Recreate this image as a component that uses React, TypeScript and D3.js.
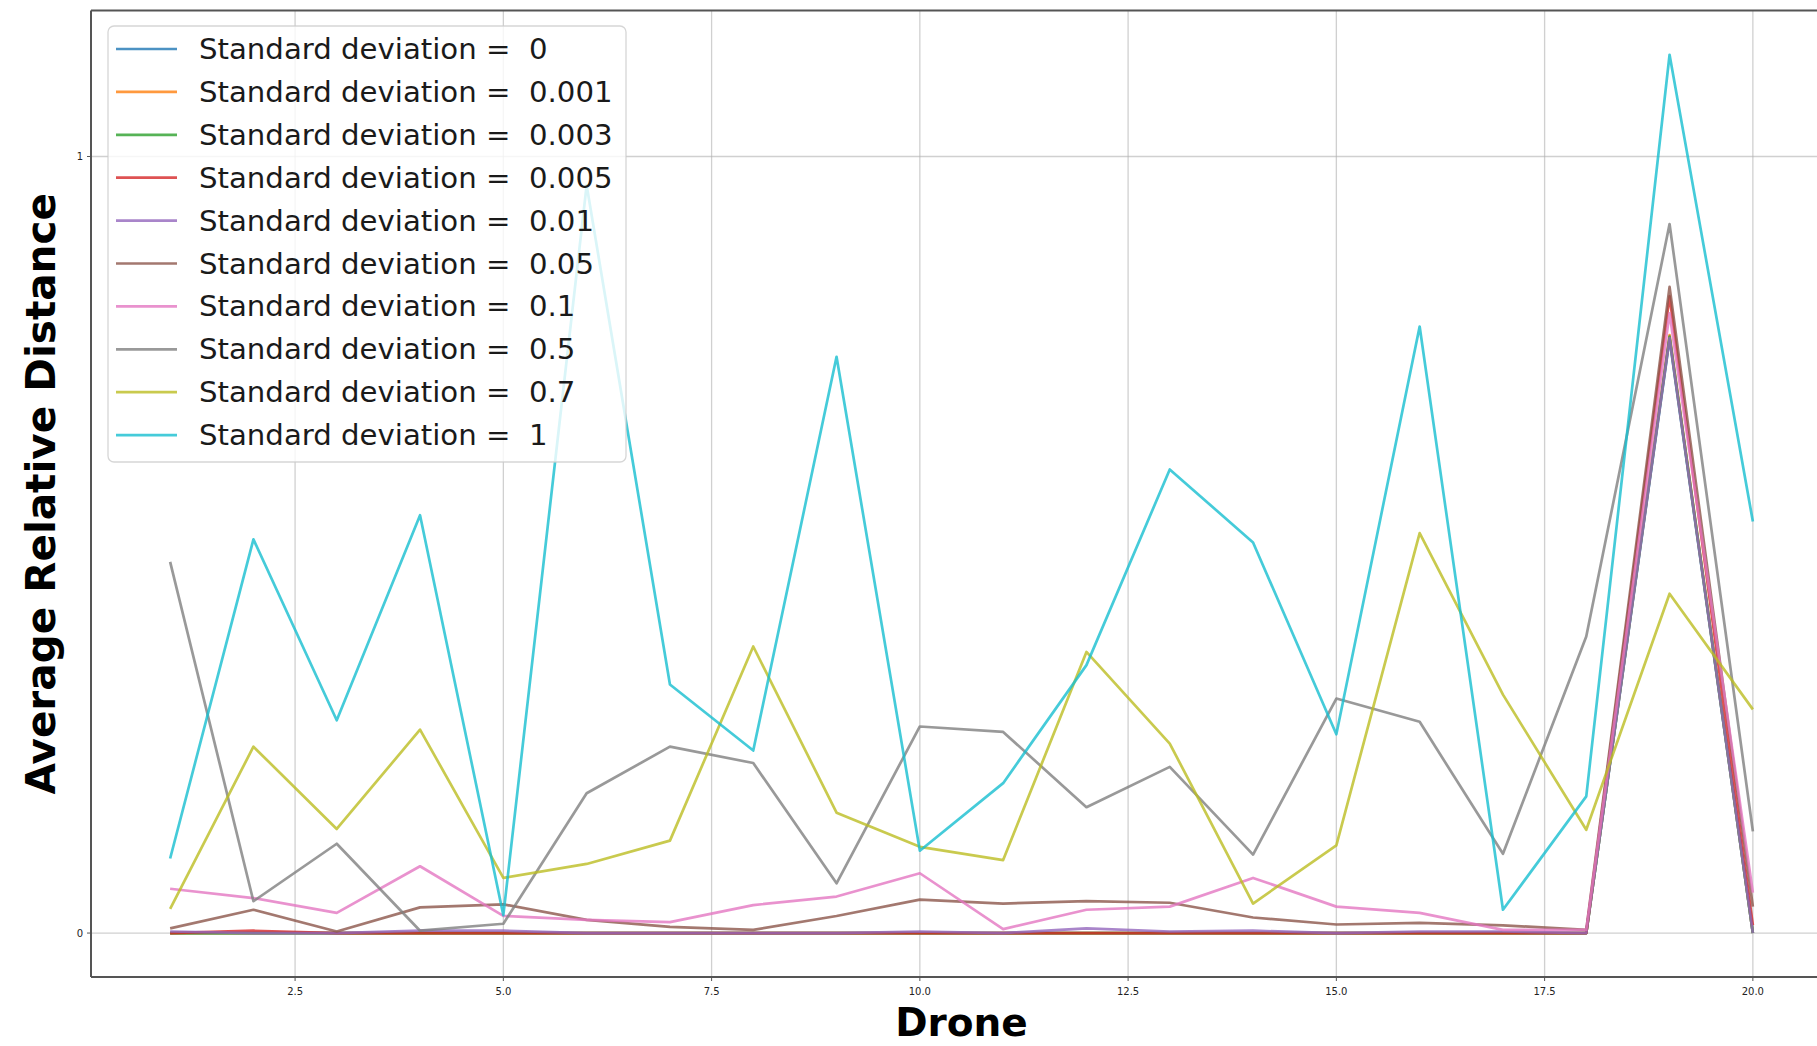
import * as d3 from 'd3';

const drones = [1, 2, 3, 4, 5, 6, 7, 8, 9, 10, 11, 12, 13, 14, 15, 16, 17, 18, 19, 20];
const stdLabels = ['0', '0.001', '0.003', '0.005', '0.01', '0.05', '0.1', '0.5', '0.7', '1'];
const xTicks = [2.5, 5.0, 7.5, 10.0, 12.5, 15.0, 17.5, 20.0];
const yTicks = [0, 1];

const sd0 = [0, 0, 0, 0, 0, 0, 0, 0, 0, 0, 0, 0, 0, 0, 0, 0, 0, 0, 0.765, 0];
const sd0001 = [0, 0, 0, 0, 0, 0, 0, 0, 0, 0, 0, 0, 0, 0, 0, 0, 0, 0, 0.77, 0];
const sd0003 = [0, 0, 0, 0, 0, 0, 0, 0, 0, 0, 0, 0, 0, 0, 0, 0, 0, 0, 0.768, 0];
const sd0005 = [0, 0.003, 0, 0, 0, 0, 0, 0, 0, 0, 0, 0, 0, 0, 0, 0, 0, 0, 0.82, 0.01];
const sd001 = [0.002, 0, 0, 0.003, 0.003, 0, 0, 0, 0, 0.002, 0, 0.006, 0.002, 0.003, 0, 0.002, 0.002, 0, 0.766, 0];
const sd005 = [0.006, 0.03, 0.002, 0.033, 0.037, 0.017, 0.008, 0.004, 0.022, 0.043, 0.038, 0.041, 0.039, 0.02, 0.011, 0.013, 0.01, 0.004, 0.832, 0.034];
const sd01 = [0.057, 0.045, 0.026, 0.086, 0.022, 0.017, 0.014, 0.036, 0.047, 0.077, 0.005, 0.03, 0.034, 0.071, 0.034, 0.026, 0.004, 0.004, 0.798, 0.052];
const sd05 = [0.478, 0.041, 0.115, 0.003, 0.012, 0.18, 0.24, 0.219, 0.064, 0.266, 0.259, 0.162, 0.214, 0.101, 0.302, 0.272, 0.102, 0.382, 0.913, 0.131];
const sd07 = [0.031, 0.24, 0.134, 0.262, 0.071, 0.089, 0.119, 0.369, 0.155, 0.111, 0.094, 0.362, 0.244, 0.038, 0.113, 0.515, 0.307, 0.133, 0.437, 0.288];
const sd1 = [0.096, 0.507, 0.274, 0.538, 0.023, 0.963, 0.32, 0.235, 0.742, 0.106, 0.193, 0.345, 0.597, 0.503, 0.256, 0.781, 0.03, 0.176, 1.131, 0.53];

const seriesValues = [sd0, sd0001, sd0003, sd0005, sd001, sd005, sd01, sd05, sd07, sd1];

const W = 1817;
const H = 1046;
const FONT = '"DejaVu Sans", sans-serif';

export default function App() {
  // axes box (the right spine falls off the picture, as in the original crop)
  const x = d3.scaleLinear().domain([0.05, 20.95]).range([91, 1832]);
  const y = d3.scaleLinear().domain([-0.0566, 1.188]).range([977, 10.5]);
  const color = d3.scaleOrdinal<number, string>().domain(d3.range(10)).range(d3.schemeCategory10);

  const line = d3.line<number>()
    .x((_, i) => x(drones[i]))
    .y(d => y(d));

  const [x0, x1] = x.range();
  const [yb, yt] = y.range();

  return (
    <svg width={W} height={H} style={{ position: 'absolute', left: 0, top: 0, background: '#fff' }}>
      <defs>
        <clipPath id="plot">
          <rect x={x0} y={yt} width={x1 - x0} height={yb - yt} />
        </clipPath>
      </defs>

      {/* grid */}
      <g stroke="#b0b0b0" strokeOpacity={0.6} strokeWidth={1.3}>
        {xTicks.map(t => (
          <line key={'gx' + t} x1={x(t)} x2={x(t)} y1={yt} y2={yb} />
        ))}
        {yTicks.map(t => (
          <line key={'gy' + t} x1={x0} x2={x1} y1={y(t)} y2={y(t)} />
        ))}
      </g>

      {/* series */}
      <g clipPath="url(#plot)" fill="none" strokeWidth={2.7} strokeLinejoin="round" strokeOpacity={0.8}>
        {seriesValues.map((vals, i) => (
          <path key={stdLabels[i]} d={line(vals) || ''} stroke={color(i)} />
        ))}
      </g>

      {/* spines */}
      <g stroke="#555" strokeWidth={2}>
        <line x1={x0} x2={x0} y1={yt} y2={yb} />
        <line x1={x0} x2={x1} y1={yt} y2={yt} />
        <line x1={x0} x2={x1} y1={yb} y2={yb} />
      </g>

      {/* ticks */}
      <g fontFamily={FONT} fontSize={10} fill="#222">
        {xTicks.map(t => (
          <g key={'tx' + t}>
            <line x1={x(t)} x2={x(t)} y1={yb} y2={yb + 4} stroke="#555" strokeWidth={1} />
            <text x={x(t)} y={yb + 18} textAnchor="middle">{t.toFixed(1)}</text>
          </g>
        ))}
        {yTicks.map(t => (
          <g key={'ty' + t}>
            <line x1={x0 - 4} x2={x0} y1={y(t)} y2={y(t)} stroke="#555" strokeWidth={1} />
            <text x={x0 - 8} y={y(t) + 3.5} textAnchor="end">{t}</text>
          </g>
        ))}
      </g>

      {/* axis labels */}
      <text x={(x0 + x1) / 2} y={1036} textAnchor="middle" fontFamily={FONT} fontWeight="bold" fontSize={39} fill="#000">
        Drone
      </text>
      <text
        transform={`translate(55, ${(yt + yb) / 2}) rotate(-90)`}
        textAnchor="middle"
        fontFamily={FONT}
        fontWeight="bold"
        fontSize={40.5}
        fill="#000"
      >
        Average Relative Distance
      </text>

      {/* legend */}
      <g fontFamily={FONT}>
        <rect x={108} y={26} width={518} height={436} rx={6} fill="#fff" fillOpacity={0.8} stroke="#ccc" strokeOpacity={0.8} strokeWidth={1.3} />
        {stdLabels.map((lab, i) => {
          const ry = 49 + i * 42.9;
          return (
            <g key={'lg' + lab}>
              <line x1={116} x2={177} y1={ry} y2={ry} stroke={color(i)} strokeWidth={2.7} strokeOpacity={0.8} />
              <text x={199} y={ry + 10} fontSize={29.2} fill="#1a1a1a" style={{ whiteSpace: 'pre' }}>
                {'Standard deviation =  ' + lab}
              </text>
            </g>
          );
        })}
      </g>
    </svg>
  );
}
